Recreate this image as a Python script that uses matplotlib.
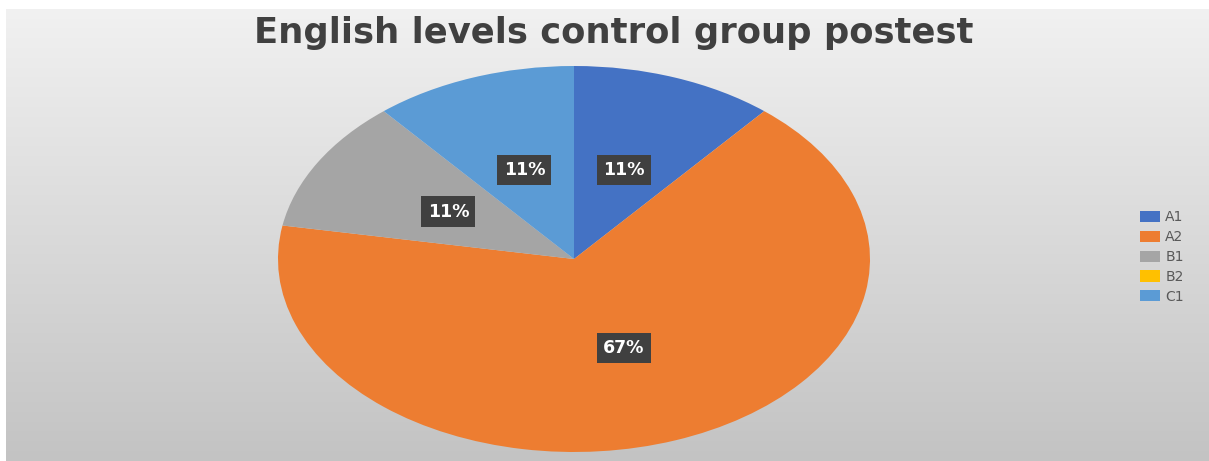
import numpy as np
import matplotlib
matplotlib.use("Agg")
import matplotlib.pyplot as plt

# English levels, control group, postest
levels = ['A1', 'A2', 'B1', 'B2', 'C1']
students = [1, 6, 1, 0, 1]
colors = ['#4472C4', '#ED7D31', '#A5A5A5', '#FFC000', '#5B9BD5']

W, H = 1209, 461
fig = plt.figure(figsize=(W / 100, H / 100), dpi=100, facecolor='white')

# gray gradient background of the chart area
bg = fig.add_axes([6 / W, 0, 1 - 6 / W, (H - 9) / H])
grad = np.linspace(0, 1, 256).reshape(-1, 1)
top, bottom = np.array([0.945, 0.945, 0.945]), np.array([0.765, 0.765, 0.765])
img = top + (bottom - top) * grad[:, :, None]
bg.imshow(img, aspect='auto', extent=[0, 1, 0, 1], origin='upper')
bg.set_axis_off()

# pie stretched into an ellipse: axes box = bounding box of the pie
x0, x1, y0, y1 = 278, 870, 66, 452
ax = fig.add_axes([x0 / W, (H - y1) / H, (x1 - x0) / W, (y1 - y0) / H])
ax.patch.set_alpha(0)


def pct(p):
    return f'{p:.0f}%' if p > 0.5 else ''


wedges, texts, autotexts = ax.pie(
    students, colors=colors, startangle=90, counterclock=False,
    autopct=pct, pctdistance=0.49, radius=1,
    wedgeprops=dict(linewidth=0),
    textprops=dict(color='white', fontsize=12.5, fontweight='bold', family='DejaVu Sans'))
for t in autotexts:
    t.set_bbox(dict(boxstyle='square,pad=0.36', facecolor='#404040', edgecolor='none'))
ax.set_aspect('auto')
ax.set_xlim(-1, 1)
ax.set_ylim(-1, 1)
ax.set_axis_off()

fig.text(614 / W, 1 - 33 / H, 'English levels control group postest', ha='center', va='center',
         fontsize=25.5, fontweight='bold', color='#404040', family='DejaVu Sans')

leg = fig.legend(wedges, levels, loc='center left', bbox_to_anchor=(1127 / W, 1 - 257 / H),
                 frameon=False, fontsize=10, labelcolor='#595959', handlelength=1.5, handleheight=0.85,
                 handletextpad=0.35, labelspacing=0.42)

fig.savefig('out.png', dpi=100, facecolor=fig.get_facecolor())
